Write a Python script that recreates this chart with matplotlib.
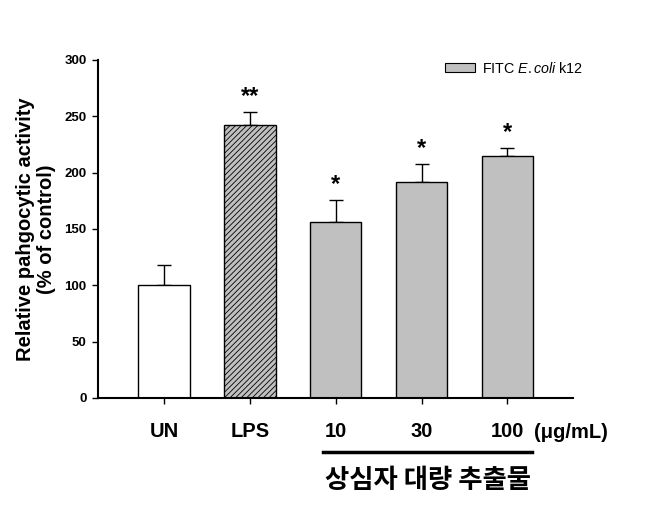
"""Relative phagocytic activity bar chart (FITC E.coli k12)"""

import matplotlib
matplotlib.use('Agg')
import matplotlib.pyplot as plt
from matplotlib.patches import Patch

plt.rcParams['font.family'] = ['Liberation Sans', 'DejaVu Sans']
plt.rcParams['mathtext.fontset'] = 'custom'
plt.rcParams['mathtext.it'] = 'Liberation Sans:italic'
plt.rcParams['mathtext.rm'] = 'Liberation Sans'
plt.rcParams['hatch.color'] = '#404040'
plt.rcParams['hatch.linewidth'] = 0.6

# data
groups = ['UN', 'LPS', '10', '30', '100']
means = [100, 242, 156, 192, 215]
errors = [18, 12, 20, 16, 7]
stars = ['', '**', '*', '*', '*']
fills = ['white', '#c0c0c0', '#c0c0c0', '#c0c0c0', '#c0c0c0']
hatches = ['', '//////', '', '', '']
y_ticks = [0, 50, 100, 150, 200, 250, 300]

fig = plt.figure(figsize=(6.56, 5.07), dpi=100)
ax = fig.add_axes([0.149, 0.215, 0.724, 0.667])

x = list(range(len(groups)))
for xi, m, f, h in zip(x, means, fills, hatches):
    ax.bar(xi, m, width=0.6, color=f, edgecolor='black', linewidth=1.0, hatch=h, zorder=2)
ax.errorbar(x, means, yerr=[[0] * len(errors), errors], fmt='none', ecolor='black',
            elinewidth=1.0, capsize=5, capthick=1.0, zorder=1)

# significance marks above the error bars
for xi, m, e, s in zip(x, means, errors, stars):
    if s:
        ax.text(xi, m + e + 3, s, ha='center', va='bottom', fontsize=17, fontweight='bold')

ax.set_xlim(-0.77, 4.76)
ax.set_ylim(0, 300)
ax.set_yticks(y_ticks)
ax.set_yticklabels([str(t) for t in y_ticks], fontsize=9.5, fontweight='bold')
ax.set_xticks(x)
ax.set_xticklabels(groups, fontsize=14.5, fontweight='bold')
ax.tick_params(axis='x', direction='out', length=4, width=1, pad=13)
ax.tick_params(axis='y', direction='out', length=4, width=1, pad=4)
for side in ['top', 'right']:
    ax.spines[side].set_visible(False)
for side in ['left', 'bottom']:
    ax.spines[side].set_linewidth(1.5)

ax.set_ylabel('Relative pahgocytic activity\n(% of control)', fontsize=14.5,
              fontweight='bold', labelpad=6, linespacing=1.15)

# unit label next to the last tick label
trans = ax.get_xaxis_transform()
ax.text(4.31, -0.102, '(\u03bcg/mL)', transform=trans, ha='left', va='center',
        fontsize=14.5, fontweight='bold', clip_on=False)

# bracket line and Korean group label under the extract doses
ax.plot([1.85, 4.29], [-0.16, -0.16], color='black', linewidth=2.5,
        transform=trans, clip_on=False)
ax.text(3.07, -0.245, '상심자 대량 추출물', transform=trans, ha='center', va='center',
        fontsize=19, fontweight='bold', family=['Noto Sans CJK KR', 'DejaVu Sans'])

handle = Patch(facecolor='#c0c0c0', edgecolor='black', linewidth=0.8)
ax.legend([handle], ['FITC $\\mathit{E.coli}$ k12'], loc='upper right',
          bbox_to_anchor=(1.05, 1.035), frameon=False, fontsize=10.3,
          handlelength=2.1, handleheight=0.6, handletextpad=0.5)

fig.savefig('out.png', dpi=100)
